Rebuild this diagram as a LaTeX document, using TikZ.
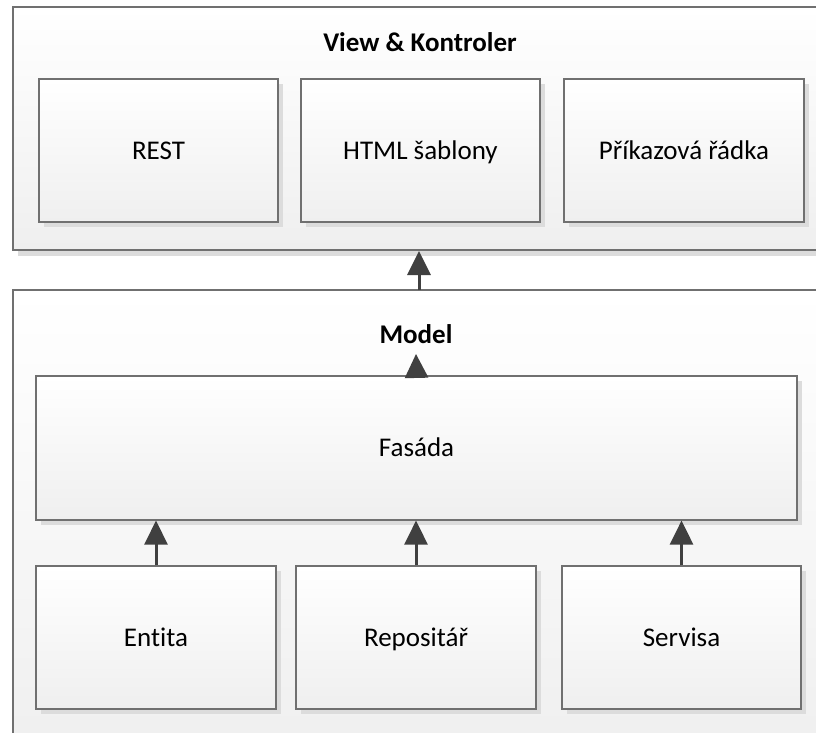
\documentclass[tikz,border=0pt]{standalone}
\usepackage{fontspec}
\setmainfont[Ligatures=NoCommon]{Carlito}
\usetikzlibrary{arrows.meta,shadows}
\definecolor{bordergray}{HTML}{707070}
\definecolor{shadowgray}{HTML}{DCDCDC}
\definecolor{arrowgray}{HTML}{404040}
\definecolor{boxbottom}{HTML}{EFEFEF}
\tikzset{
  x=1pt, y=-1pt,
  box/.style={draw=bordergray, line width=1.2pt, rectangle, top color=white, bottom color=boxbottom,
    drop shadow={shadow xshift=5pt, shadow yshift=-5pt, fill=shadowgray, opacity=1},
    font=\fontsize{27}{31}\selectfont, text=black, inner sep=0pt, text height=17.5pt, text depth=0pt},
  outer/.style={draw=bordergray, line width=1.2pt, top color=white, bottom color=boxbottom},
  title/.style={font=\bfseries\fontsize{27}{31}\selectfont, inner sep=0pt, text height=17.5pt, text depth=0pt},
  arr/.style={draw=arrowgray, line width=3pt, -{Triangle[length=24pt,width=23pt]}}
}
\begin{document}
\begin{tikzpicture}
\useasboundingbox (0,0) rectangle (816,733);
\clip (0,0) rectangle (816,733);
\fill[white] (0,0) rectangle (816,733);
% outer boxes
\fill[shadowgray] (18,12) rectangle (835,256);
\path[outer] (13,7) rectangle (830,250);
\path[outer] (13,290) rectangle (830,760);
\coordinate (vbot) at (419,251);
\coordinate (mtop) at (419,290);
\node[title] (vtitle) at (420,43) {View \& Kontroler};
\node[title] (mtitle) at (416,335) {Model};
% view boxes
\node[box, minimum width=239pt, minimum height=143pt] (rest) at (158.5,150.5) {REST};
\node[box, minimum width=239pt, minimum height=143pt] (html) at (420.5,150.5) {HTML šablony};
\node[box, minimum width=240pt, minimum height=143pt] (cmd) at (684,150.5) {Příkazová řádka};
% model boxes
\node[box, minimum width=761pt, minimum height=144pt] (fasada) at (416.5,448) {Fasáda};
\node[box, minimum width=240pt, minimum height=143pt] (entita) at (156,637.5) {Entita};
\node[box, minimum width=240pt, minimum height=143pt] (repo) at (416,637.5) {Repositář};
\node[box, minimum width=239pt, minimum height=143pt] (serv) at (681.5,637.5) {Servisa};
% arrows
\draw[arr] (mtop) -- (vbot);
\draw[arr] (fasada.north) -- ([yshift=-10pt]mtitle.south);
\draw[arr] (entita.north) -- (entita.north |- fasada.south);
\draw[arr] (repo.north) -- (repo.north |- fasada.south);
\draw[arr] (serv.north) -- (serv.north |- fasada.south);
\end{tikzpicture}
\end{document}
